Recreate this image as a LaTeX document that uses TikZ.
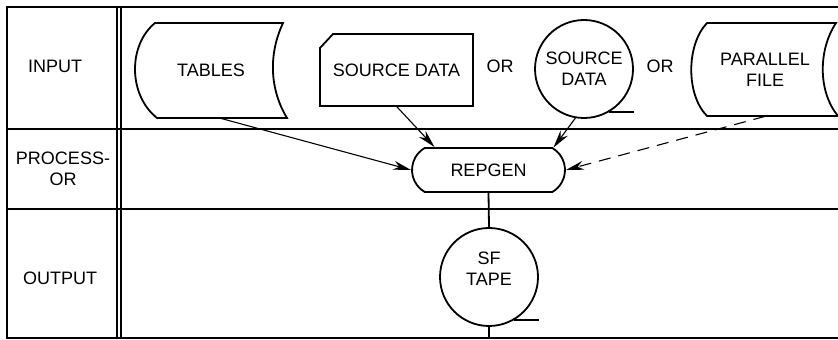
\documentclass[tikz,border=0pt]{standalone}
\usepackage{fontspec}
\setmainfont{Liberation Sans}
\usetikzlibrary{shapes.misc}
\usetikzlibrary{arrows.meta}

\begin{document}
\begin{tikzpicture}
[x=0.5pt, y=-0.5pt,
 every node/.style={inner sep=0pt, font=\fontsize{9}{10.5}\selectfont, align=center},
 frame/.style={line width=1pt, color=black},
 symbol/.style={line width=0.9pt, draw=black},
 flow/.style={line width=0.55pt, -{Stealth[length=9pt, width=4.5pt]}, color=black}]
\useasboundingbox (0,0) rectangle (838,340);
% chart frame
\draw [frame] (838,7) -- (7,7) -- (7,338) -- (838,338);
\draw [frame] (7,129) -- (838,129);
\draw [frame] (7,209) -- (838,209);
\draw [frame] (117,7) -- (117,338);
\draw [frame] (121,7) -- (121,338);
\node (input) at (55,66) {INPUT};
\node (processor) at (63,169) {PROCESS-\\OR};
\node (output) at (60,278) {OUTPUT};
% input symbols
\node (tables) [minimum width=76pt, minimum height=47.5pt] at (211,70) {TABLES};
\draw [symbol] (155,23) -- (283,23) .. controls (268,55) and (270,90) .. (287,118) -- (157,118) .. controls (128,95) and (128,45) .. (155,23) -- cycle;
\node (srccard) [minimum width=76.5pt, minimum height=36pt] at (396.5,70) {SOURCE DATA};
\draw [symbol] (333,34) -- (473,34) -- (473,106) -- (320,106) -- (320,48) -- cycle;
\node (or1) at (500,66) {OR};
\node (srccirc) [circle, symbol, minimum size=49pt] at (584,69) {SOURCE\\DATA};
\draw [symbol] (srccirc.-60) -- ++(25,0);
\node (or2) at (660,66) {OR};
\node (pfile) [minimum width=72pt, minimum height=46.5pt] at (765,69.5) {PARALLEL\\FILE};
\draw [symbol] (707,23) -- (836,23) .. controls (818,50) and (818,92) .. (838,116) -- (707,116) .. controls (686,95) and (686,45) .. (707,23) -- cycle;
% process and output
\node (repgen) [rounded rectangle, rounded rectangle arc length=120, symbol, minimum width=76.5pt, minimum height=22pt] at (488.5,170) {REPGEN};
\node (sftape) [circle, symbol, minimum size=49pt, text depth=8pt] at (489,277) {SF\\TAPE};
\draw [symbol] (sftape.-60) -- ++(25,0);
\coordinate (tapeend) at (489,338);
\draw [flow] ([xshift=4pt]tables.south) to (repgen.west);
\draw [flow] (srccard.south) to (repgen.157);
\draw [flow] (srccirc.-100) to (repgen.19);
\draw [flow, dash pattern=on 6pt off 4pt] (pfile.south) to (repgen.east);
\draw [line width=0.9pt] (repgen.south) to (sftape.north);
\draw [line width=0.9pt] (sftape.south) to (tapeend);

\end{tikzpicture}
\end{document}
